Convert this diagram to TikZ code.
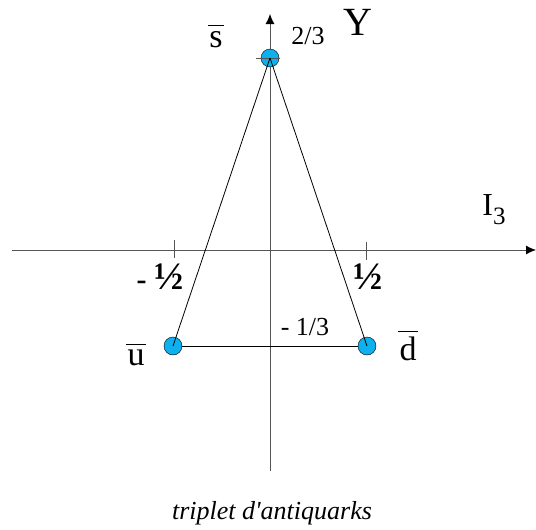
\documentclass[tikz,border=0pt]{standalone}
\usepackage{fontspec}
\setmainfont{Liberation Serif}
\usetikzlibrary{arrows.meta}
\definecolor{quarkblue}{HTML}{0FB0EE}
\definecolor{axisgray}{HTML}{555555}
\newcommand{\antiq}[1]{\vbox{\hrule height 1.1pt\kern 4.5pt\hbox{\kern1.5pt#1\kern1.5pt}}}

\begin{document}
\begin{tikzpicture}[
    x=1pt,
    y=-1pt,
    font=\fontsize{26}{28}\selectfont,
    quark/.style={circle, draw=black, fill=quarkblue, minimum size=18pt, inner sep=0pt},
    axis/.style={-{Latex[length=10pt,width=9pt,black]}, draw=axisgray, line width=0.9pt},
    tick/.style={draw=axisgray, line width=0.9pt},
    edge/.style={draw=black, line width=0.8pt},
    lbl/.style={inner sep=0pt, anchor=base},
    letter/.style={lbl, font=\fontsize{34}{36}\selectfont},
    half/.style={lbl, font=\fontsize{39}{40}\selectfont\bfseries}
  ]
    \useasboundingbox (0,0) rectangle (536,530);
    % axes
    \coordinate (ybot) at (270,471);
    \coordinate (ytop) at (270,14);
    \coordinate (xleft) at (12,250);
    \coordinate (xright) at (536,250);
    \draw[axis] (ybot) -- (ytop);
    \draw[axis] (xleft) -- (xright);
    \draw[tick] (174,240) -- (174,258);
    \draw[tick] (366,242) -- (366,260);
    \draw[tick] (260,346) -- (286,346);

    % quarks
    \node[quark] (sbar) at (270,58) {};
    \node[quark] (ubar) at (173,346) {};
    \node[quark] (dbar) at (367,346) {};
    \draw[tick] (256,58) -- (280,58);
    \draw[edge] (ubar) -- (dbar);
    \draw[edge] (sbar.center) -- (ubar.center);
    \draw[edge] (sbar.center) -- (dbar.center);

    % labels
    \node[letter] (slbl) at (216,47) {\antiq{s}};
    \node[lbl] (stwo) at (308,45) {2/3};
    \node[lbl, font=\fontsize{40}{42}\selectfont] (ylbl) at (358,35) {Y};
    \node[lbl, font=\fontsize{32}{34}\selectfont] (ilbl) at (494,215) {I\raisebox{-0.3em}{\fontsize{25}{25}\selectfont 3}};
    \node[half] (mhalf) at (160,289) {{\fontsize{30}{32}\selectfont- }½};
    \node[half] (phalf) at (368,289) {½};
    \node[lbl] (mthird) at (305,335) {- 1/3};
    \node[letter] (ulbl) at (136,365) {\antiq{u}};
    \node[letter] (dlbl) at (408,360) {\antiq{d}};
    \node[lbl, font=\fontsize{26}{28}\selectfont\itshape] (caption) at (272,519) {triplet d\textquotesingle antiquarks};
\end{tikzpicture}
\end{document}
